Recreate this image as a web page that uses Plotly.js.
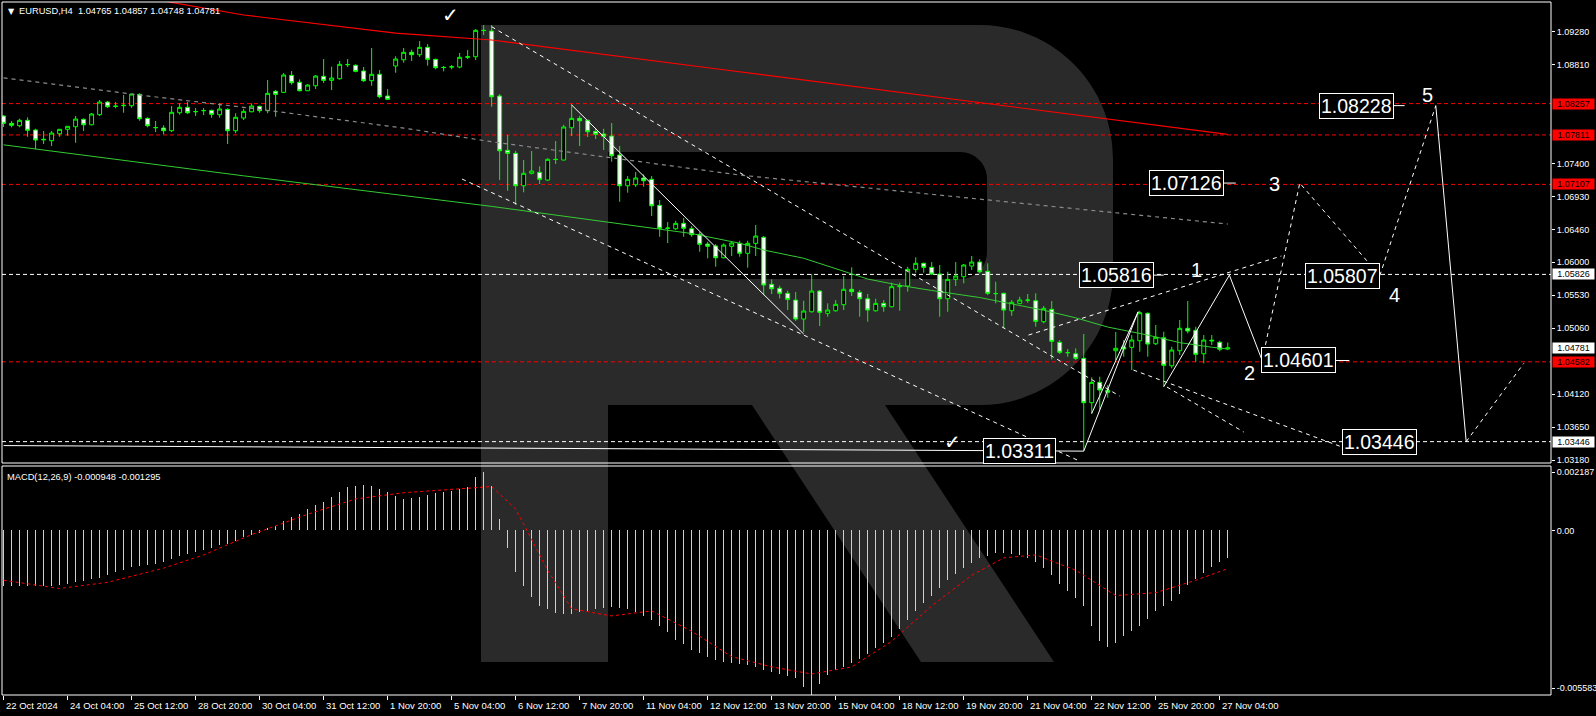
<!DOCTYPE html>
<html><head><meta charset="utf-8">
<script src="https://cdn.plot.ly/plotly-3.0.1.min.js"></script>
<style>html,body{margin:0;padding:0;background:#000;}#chart{width:1596px;height:716px;}</style>
</head><body><div id="chart"></div>
<script>
// ---------- DATA (EURUSD H4) ----------
const xTickIdx = [0,8,16,24,32,40,48,56,64,72,80,88,96,104,112,120,128,136,144,152];
const xTickText = ["22 Oct 2024","24 Oct 04:00","25 Oct 12:00","28 Oct 20:00","30 Oct 04:00","31 Oct 12:00","1 Nov 20:00","5 Nov 04:00","6 Nov 12:00","7 Nov 20:00","11 Nov 04:00","12 Nov 12:00","13 Nov 20:00","15 Nov 04:00","18 Nov 12:00","19 Nov 20:00","21 Nov 04:00","22 Nov 12:00","25 Nov 20:00","27 Nov 04:00"];
const yTickVals = [1.09280,1.08810,1.07400,1.06930,1.06460,1.06000,1.05530,1.05060,1.04120,1.03650,1.03180];
const yTickText = ['1.09280','1.08810','1.07400','1.06930','1.06460','1.06000','1.05530','1.05060','1.04120','1.03650','1.03180'];

const openP = [1.08080,1.07976,1.07942,1.08019,1.07881,1.07749,1.07729,1.07828,1.07891,1.07928,
1.08033,1.07956,1.08099,1.08279,1.08222,1.08227,1.08227,1.08389,1.08047,1.07914,
1.07909,1.07871,1.08127,1.08204,1.08141,1.08156,1.08161,1.08099,1.08175,1.07871,
1.08052,1.08141,1.08218,1.08156,1.08432,1.08417,1.08659,1.08560,1.08440,1.08511,
1.08645,1.08588,1.08611,1.08810,1.08802,1.08721,1.08583,1.08674,1.08365,1.08792,
1.08881,1.08987,1.08953,1.09058,1.08887,1.08773,1.08777,1.08777,1.08916,1.08924,
1.09300,1.09290,1.08365,1.07592,1.07549,1.07088,1.07265,1.07279,1.07169,1.07464,
1.07454,1.07914,1.08047,1.08019,1.07862,1.07824,1.07795,1.07525,1.07088,1.07102,
1.07198,1.07179,1.06809,1.06486,1.06476,1.06553,1.06476,1.06396,1.06258,1.06230,
1.06063,1.06226,1.06268,1.06126,1.06268,1.06354,1.05685,1.05628,1.05557,1.05461,
1.05191,1.05295,1.05589,1.05272,1.05309,1.05395,1.05614,1.05571,1.05480,1.05309,
1.05414,1.05366,1.05651,1.05661,1.05898,1.05984,1.05927,1.05831,1.05480,1.05756,
1.05793,1.05945,1.06002,1.05870,1.05551,1.05557,1.05309,1.05414,1.05461,1.05451,
1.05153,1.05329,1.04860,1.04711,1.04697,1.04632,1.04000,1.04290,1.04176,1.04740,
1.04793,1.04788,1.04882,1.05272,1.04839,1.04925,1.04526,1.04740,1.05059,1.05030,
1.04697,1.04878,1.04860,1.04765];
const highP = [1.08094,1.08009,1.08042,1.08062,1.07899,1.07867,1.07867,1.07895,1.07938,1.08080,
1.08047,1.08123,1.08308,1.08294,1.08279,1.08379,1.08393,1.08403,1.08062,1.08009,
1.07948,1.08222,1.08261,1.08279,1.08194,1.08194,1.08170,1.08261,1.08190,1.08119,
1.08184,1.08261,1.08227,1.08592,1.08450,1.08692,1.08721,1.08602,1.08536,1.08664,
1.08891,1.08782,1.08863,1.08891,1.08816,1.08778,1.09048,1.08735,1.08464,1.08930,
1.09048,1.09024,1.09147,1.09105,1.08896,1.08792,1.08806,1.08977,1.09019,1.09318,
1.09375,1.09375,1.08393,1.07810,1.07586,1.07454,1.07582,1.07364,1.07478,1.07724,
1.07956,1.08247,1.08084,1.08027,1.07899,1.07899,1.07980,1.07653,1.07226,1.07283,
1.07250,1.07226,1.06885,1.06571,1.06590,1.06628,1.06515,1.06429,1.06291,1.06258,
1.06268,1.06287,1.06305,1.06305,1.06529,1.06372,1.05756,1.05665,1.05594,1.05575,
1.05451,1.05831,1.05604,1.05414,1.05461,1.05803,1.05927,1.05604,1.05547,1.05480,
1.05461,1.05708,1.05708,1.05935,1.06069,1.05992,1.06002,1.05960,1.05864,1.06002,
1.05974,1.06088,1.06041,1.05984,1.05722,1.05565,1.05461,1.05508,1.05547,1.05557,
1.05376,1.05447,1.04892,1.04764,1.04774,1.04978,1.04361,1.04370,1.04252,1.05006,
1.04892,1.04963,1.05309,1.05286,1.05106,1.05010,1.04797,1.05177,1.05447,1.05081,
1.04963,1.04963,1.04882,1.04857];
const lowP = [1.07924,1.07919,1.07919,1.07785,1.07606,1.07682,1.07653,1.07785,1.07800,1.07700,
1.07867,1.07948,1.08080,1.08194,1.08190,1.08127,1.08198,1.08013,1.07919,1.07852,
1.07820,1.07852,1.08099,1.08109,1.08080,1.08094,1.08056,1.08056,1.07682,1.07834,
1.08023,1.08133,1.08127,1.08119,1.08070,1.08407,1.08526,1.08432,1.08436,1.08464,
1.08550,1.08450,1.08597,1.08777,1.08702,1.08564,1.08511,1.08332,1.08308,1.08696,
1.08839,1.08863,1.08920,1.08796,1.08745,1.08716,1.08745,1.08759,1.08891,1.08877,
1.09233,1.08212,1.07169,1.07017,1.06813,1.06994,1.07250,1.07112,1.07159,1.07397,
1.07450,1.07795,1.07653,1.07781,1.07753,1.07596,1.07430,1.06860,1.06989,1.07070,
1.07074,1.06657,1.06362,1.06273,1.06458,1.06362,1.06362,1.06149,1.06055,1.05935,
1.06055,1.06088,1.06078,1.05921,1.06088,1.05532,1.05547,1.05485,1.05319,1.05163,
1.05006,1.05281,1.05091,1.05224,1.05295,1.05319,1.05518,1.05224,1.05153,1.05295,
1.05295,1.05357,1.05309,1.05580,1.05850,1.05850,1.05817,1.05224,1.05295,1.05661,
1.05699,1.05888,1.05841,1.05532,1.05414,1.05059,1.05238,1.05400,1.05423,1.05081,
1.05130,1.04617,1.04693,1.04655,1.04607,1.03311,1.03839,1.03906,1.04071,1.04607,
1.04655,1.04465,1.04726,1.04655,1.04821,1.04228,1.04489,1.04679,1.04987,1.04583,
1.04560,1.04821,1.04731,1.04748];
const closeP = [1.07976,1.07948,1.08019,1.07877,1.07739,1.07743,1.07838,1.07891,1.07934,1.08037,
1.07956,1.08109,1.08279,1.08212,1.08218,1.08232,1.08393,1.08042,1.07942,1.07916,
1.07871,1.08133,1.08204,1.08127,1.08144,1.08158,1.08104,1.08180,1.07871,1.08062,
1.08147,1.08222,1.08156,1.08403,1.08389,1.08664,1.08554,1.08440,1.08521,1.08649,
1.08588,1.08621,1.08816,1.08813,1.08716,1.08583,1.08674,1.08355,1.08318,1.08891,
1.08987,1.08953,1.09058,1.08887,1.08768,1.08770,1.08782,1.08916,1.08924,1.09300,
1.09297,1.08355,1.07586,1.07549,1.07088,1.07265,1.07297,1.07179,1.07464,1.07461,
1.07924,1.08047,1.08013,1.07857,1.07820,1.07791,1.07515,1.07088,1.07179,1.07198,
1.07159,1.06803,1.06482,1.06483,1.06553,1.06482,1.06391,1.06254,1.06226,1.06063,
1.06244,1.06273,1.06126,1.06268,1.06372,1.05675,1.05622,1.05557,1.05471,1.05191,
1.05305,1.05589,1.05286,1.05319,1.05400,1.05614,1.05580,1.05480,1.05319,1.05414,
1.05366,1.05651,1.05661,1.05898,1.05984,1.05927,1.05831,1.05480,1.05756,1.05803,
1.05960,1.06002,1.05864,1.05557,1.05554,1.05319,1.05429,1.05461,1.05459,1.05158,
1.05343,1.04874,1.04717,1.04714,1.04632,1.04000,1.04290,1.04181,1.04148,1.04774,
1.04764,1.04892,1.05281,1.04835,1.04931,1.04532,1.04750,1.05059,1.05020,1.04689,
1.04892,1.04888,1.04760,1.04781];

// moving averages (read at sample bars)
const redMAIdx = [20,30,49,61,90,120,153];
const redMA = [1.09717,1.09518,1.09261,1.09162,1.08739,1.08302,1.07818];
const greyMAIdx = [0,16,31,50,61,75,92,153];
const greyMA = [1.08624,1.08393,1.08190,1.07909,1.07714,1.07501,1.07240,1.06543];
const greenMAIdx = [0,30,61,75,86,92,95,100,104,108,112,116,122,130,134,138,143,147,151,153];
const greenMA = [1.07670,1.07229,1.06794,1.06582,1.06408,1.06270,1.06173,1.06056,1.05903,1.05760,1.05671,1.05597,1.05497,1.05316,1.05208,1.05077,1.04963,1.04855,1.04790,1.04764];

// MACD(12,26,9): main line (histogram) and signal
const macdMain = [-0.00187,-0.00190,-0.00190,-0.00188,-0.00190,-0.00190,-0.00187,-0.00184,-0.00180,-0.00174,
-0.00170,-0.00165,-0.00160,-0.00150,-0.00142,-0.00134,-0.00125,-0.00122,-0.00118,-0.00115,
-0.00108,-0.00098,-0.00088,-0.00080,-0.00073,-0.00066,-0.00058,-0.00050,-0.00045,-0.00035,
-0.00022,-0.00014,-0.00008,0.00007,0.00015,0.00031,0.00045,0.00055,0.00073,0.00085,
0.00098,0.00114,0.00130,0.00149,0.00152,0.00155,0.00150,0.00142,0.00130,0.00118,
0.00107,0.00110,0.00114,0.00120,0.00128,0.00132,0.00135,0.00140,0.00149,0.00180,
0.00200,0.00150,0.00040,-0.00060,-0.00140,-0.00190,-0.00225,-0.00255,-0.00268,-0.00280,
-0.00285,-0.00282,-0.00278,-0.00272,-0.00266,-0.00262,-0.00259,-0.00262,-0.00266,-0.00275,
-0.00290,-0.00305,-0.00325,-0.00345,-0.00370,-0.00385,-0.00404,-0.00415,-0.00428,-0.00438,
-0.00446,-0.00450,-0.00452,-0.00458,-0.00463,-0.00472,-0.00480,-0.00488,-0.00494,-0.00500,
-0.00530,-0.00558,-0.00520,-0.00490,-0.00475,-0.00462,-0.00450,-0.00435,-0.00418,-0.00400,
-0.00383,-0.00360,-0.00335,-0.00305,-0.00273,-0.00245,-0.00221,-0.00195,-0.00169,-0.00148,
-0.00128,-0.00110,-0.00093,-0.00085,-0.00078,-0.00076,-0.00080,-0.00083,-0.00095,-0.00107,
-0.00128,-0.00152,-0.00180,-0.00204,-0.00230,-0.00256,-0.00325,-0.00376,-0.00394,-0.00383,
-0.00359,-0.00340,-0.00325,-0.00300,-0.00273,-0.00255,-0.00238,-0.00215,-0.00185,-0.00165,
-0.00145,-0.00125,-0.00108,-0.000948];
const macdSigIdx = [0,7,13,20,25,31,38,44,50,57,61,64,68,71,76,81,86,91,96,101,106,111,116,121,125,129,134,139,144,149,153];
const macdSig = [-0.00169,-0.00197,-0.00176,-0.00128,-0.00083,-0.00014,0.00055,0.00107,0.00128,0.00142,0.00149,0.00073,-0.00135,-0.00266,-0.00290,-0.00273,-0.00342,-0.00428,-0.00463,-0.00487,-0.00463,-0.00376,-0.00256,-0.00152,-0.00093,-0.00083,-0.00135,-0.00221,-0.00211,-0.00169,-0.001295];
const macdMax = 0.002187, macdMin = -0.005583;

// horizontal levels
const redLevels = [1.08257,1.07811,1.07107,1.04582];
const whiteLevels = [1.05826,1.03446];

// drawn lines (bar index, price)
const upperChIdx = [61,139.5], upperChP = [1.09351,1.04094];
const lowerChIdx = [57.3,134.2], lowerChP = [1.07183,1.03184];
const diagIdx = [71,100], diagP = [1.08237,1.04978];
const baseIdx = [0,135], baseP = [1.03390,1.03311];
const waveAIdx = [135,141.8], waveAP = [1.03311,1.05295];
const waveBIdx = [136,141.8], waveBP = [1.03849,1.05295];
const waveSolidIdx = [145,153.2,157.3], waveSolidP = [1.04228,1.05816,1.04601];
const waveDashIdx = [157.3,162,172,179], waveDashP = [1.04601,1.07126,1.05807,1.08228];
const waveDropIdx = [179,182.8], waveDropP = [1.08228,1.03446];
const waveEndIdx = [182.8,190], waveEndP = [1.03446,1.0456];
const riseIdx = [128.1,159.7], riseP = [1.04963,1.06088];
const fall1Idx = [141.2,167.3], fall1P = [1.04465,1.03369];
const fall2Idx = [145.4,155.0], fall2P = [1.04223,1.03583];

const waveLabels = ["1.08228","1.07126","1.05816","1.05807","1.04601","1.03446","1.03311"];
const waveNums = ["1","2","3","4","5"];

// ---------- CHART ----------
const N = openP.length;
const idx = Array.from({length:N},(_,i)=>i);
const FONT = "Liberation Sans, Arial, sans-serif";
const W = '#ffffff';

function line(x,y,color,dash,width){return {x:x,y:y,type:'scatter',mode:'lines',line:{color:color,dash:dash||'solid',width:width||1},hoverinfo:'skip',showlegend:false};}

const traces = [
  {type:'candlestick',x:idx,open:openP,high:highP,low:lowP,close:closeP,
   increasing:{line:{color:'#00ff00',width:1},fillcolor:'#000000'},
   decreasing:{line:{color:'#00ff00',width:1},fillcolor:'#ffffff'},
   whiskerwidth:0,hoverinfo:'skip',showlegend:false},
  line(redMAIdx,redMA,'#ff0000','solid',1.2),
  line(greyMAIdx,greyMA,'#8a8a8a','4px,4px',1.2),
  line(greenMAIdx,greenMA,'#33cc33','solid',1),
  line(upperChIdx,upperChP,W,'4px,4px',1),
  line(lowerChIdx,lowerChP,W,'4px,4px',1),
  line(diagIdx,diagP,W,'solid',1),
  line(baseIdx,baseP,W,'solid',1),
  line(waveAIdx,waveAP,W,'solid',1),
  line(waveBIdx,waveBP,W,'solid',1),
  line(waveSolidIdx,waveSolidP,W,'solid',1),
  line(waveDashIdx,waveDashP,W,'4px,4px',1),
  line(waveDropIdx,waveDropP,W,'solid',1),
  line(waveEndIdx,waveEndP,W,'4px,4px',1),
  line(riseIdx,riseP,W,'4px,4px',1),
  line(fall1Idx,fall1P,W,'4px,4px',1),
  line(fall2Idx,fall2P,W,'4px,4px',1),
  {type:'bar',x:idx,y:macdMain,xaxis:'x',yaxis:'y2',marker:{color:'#cfcfcf',line:{width:0}},width:0.18,hoverinfo:'skip',showlegend:false},
  {type:'scatter',mode:'lines',x:macdSigIdx,y:macdSig,xaxis:'x',yaxis:'y2',line:{color:'#ff0000',dash:'dot',width:1},hoverinfo:'skip',showlegend:false}
];

// short tails next to the level boxes
[[1.08228,173.6,175.1],[1.07126,152.5,154.0],[1.05816,143.7,145.0],[1.04601,166.5,168.2]].forEach(t=>traces.push(line([t[1],t[2]],[t[0],t[0]],W,'solid',1)));

// pixel -> paper helpers for decorative layout items
const PL=2, PR=1551, PT=2, PB=695;
const px = x => (x-PL)/(PR-PL);
const py = y => (PB-y)/(PB-PT);
const P = (x,y) => px(x).toFixed(5)+','+py(y).toFixed(5);

const logoPath = 'M'+P(481,25)+' L'+P(980,25)+' C'+P(1053,25)+' '+P(1113,85)+' '+P(1113,158)+
  ' L'+P(1113,272)+' C'+P(1113,345)+' '+P(1053,405)+' '+P(980,405)+' L'+P(885,405)+' L'+P(1054,662)+
  ' L'+P(921,662)+' L'+P(752,405)+' L'+P(608,405)+' L'+P(608,662)+' L'+P(481,662)+' Z';
const holePath = 'M'+P(608,152)+' L'+P(960,152)+' C'+P(975,152)+' '+P(987,164)+' '+P(987,179)+
  ' L'+P(987,252)+' C'+P(987,267)+' '+P(975,279)+' '+P(960,279)+' L'+P(608,279)+' Z';

const mainDom=[py(463),1], macdDom=[0,py(466)];
const shapes = [
  {type:'path',path:logoPath,xref:'paper',yref:'paper',fillcolor:'#2a2a2a',line:{width:0},layer:'below'},
  {type:'path',path:holePath,xref:'paper',yref:'paper',fillcolor:'#000000',line:{width:0},layer:'below'}
];
redLevels.forEach(v=>shapes.push({type:'line',xref:'paper',x0:0,x1:1,yref:'y',y0:v,y1:v,line:{color:'#ff0000',width:1,dash:'4px,3px'},layer:'below'}));
whiteLevels.forEach(v=>shapes.push({type:'line',xref:'paper',x0:0,x1:1,yref:'y',y0:v,y1:v,line:{color:W,width:1,dash:'4px,3px'},layer:'below'}));
shapes.push({type:'rect',xref:'paper',yref:'paper',x0:0,x1:1,y0:mainDom[0],y1:1,line:{color:W,width:1},layer:'above'});
shapes.push({type:'rect',xref:'paper',yref:'paper',x0:0,x1:1,y0:0,y1:macdDom[1],line:{color:W,width:1},layer:'above'});

const ann = [];
xTickIdx.forEach((v,k)=>ann.push({xref:'x',x:v,yref:'paper',y:0,xanchor:'left',yanchor:'top',xshift:0,yshift:-3,text:xTickText[k],showarrow:false,font:{family:FONT,size:9.5,color:W}}));
ann.push({xref:'paper',x:px(6),yref:'paper',y:py(11),xanchor:'left',yanchor:'middle',text:'▼',showarrow:false,font:{family:'DejaVu Sans',size:8,color:W}});
ann.push({xref:'paper',x:px(17),yref:'paper',y:py(11),xanchor:'left',yanchor:'middle',text:'EURUSD,H4  1.04765 1.04857 1.04748 1.04781',showarrow:false,font:{family:FONT,size:9.3,color:W}});
ann.push({xref:'paper',x:px(5),yref:'paper',y:py(477),xanchor:'left',yanchor:'middle',text:'MACD(12,26,9) -0.000948 -0.001295',showarrow:false,font:{family:FONT,size:9.3,color:W}});
const tags=[[1.08257,'#ff0000'],[1.07811,'#ff0000'],[1.07107,'#ff0000'],[1.05826,'#ffffff'],[1.04781,'#ffffff'],[1.04582,'#ff0000'],[1.03446,'#ffffff']];
tags.forEach(t=>ann.push({xref:'paper',x:1,xanchor:'left',xshift:1,yref:'y',y:t[0],yanchor:'middle',text:t[0].toFixed(5),showarrow:false,bgcolor:t[1],font:{family:FONT,size:9,color:'#000'},width:41,height:10,borderpad:0}));
const boxPos=[169.1,147.9,139.1,167.3,161.9,172.0,127.0];
waveLabels.forEach((t,k)=>ann.push({xref:'x',x:boxPos[k],yref:'y',y:parseFloat(t),text:t,showarrow:false,bgcolor:'#000',bordercolor:W,borderwidth:1,borderpad:1,font:{family:FONT,size:19.5,color:W}}));
const numPos=[[149.1,1.05888],[155.7,1.04420],[158.8,1.07112],[173.9,1.05533],[178,1.08379]];
waveNums.forEach((t,k)=>ann.push({xref:'x',x:numPos[k][0],yref:'y',y:numPos[k][1],text:t,showarrow:false,font:{family:FONT,size:20,color:W}}));
ann.push({xref:'x',x:55.8,yref:'y',y:1.09518,text:'✓',showarrow:false,font:{family:'DejaVu Sans',size:20,color:W}});
ann.push({xref:'x',x:118.6,yref:'y',y:1.03440,text:'✓',showarrow:false,font:{family:'DejaVu Sans',size:20,color:W}});

const layout = {
  width:1596,height:716,paper_bgcolor:'#000',plot_bgcolor:'#000',
  margin:{l:PL,r:1596-PR,t:PT,b:716-PB},
  showlegend:false,font:{family:FONT,color:W,size:9},
  xaxis:{range:[-0.2,193.4],domain:[0,1],anchor:'y2',showgrid:false,zeroline:false,showline:false,
    tickvals:xTickIdx,ticks:'outside',ticklen:4,tickcolor:W,showticklabels:false,rangeslider:{visible:false},fixedrange:true},
  yaxis:{domain:mainDom,range:[1.03142,1.09703],side:'right',anchor:'x',showgrid:false,zeroline:false,showline:false,
    tickvals:yTickVals,ticktext:yTickText,
    ticks:'outside',ticklen:3,tickcolor:W,tickfont:{family:FONT,size:9,color:W},fixedrange:true},
  yaxis2:{domain:macdDom,range:[macdMin,macdMax],side:'right',anchor:'x',showgrid:false,zeroline:false,showline:false,
    tickvals:[0.00198,0,-0.00535],ticktext:[macdMax.toFixed(6),'0.00',macdMin.toFixed(6)],
    ticks:'outside',ticklen:3,tickcolor:W,tickfont:{family:FONT,size:9,color:W},fixedrange:true},
  bargap:0,
  shapes:shapes,annotations:ann
};
Plotly.newPlot('chart',traces,layout,{staticPlot:true,displayModeBar:false});
</script>
</body></html>
